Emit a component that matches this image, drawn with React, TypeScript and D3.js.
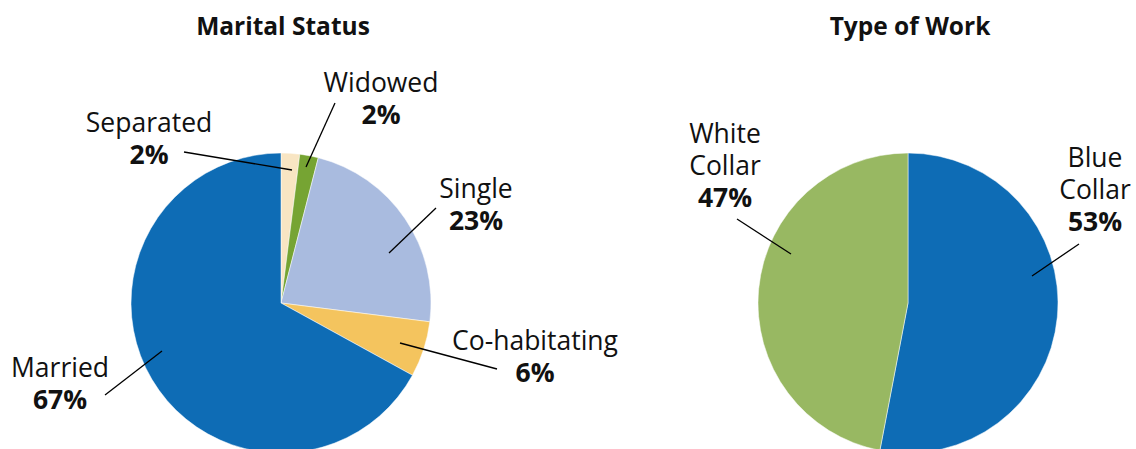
import React from "react";
import * as d3 from "d3";

// ---- Data ----
const maritalCategories = ["Separated", "Widowed", "Single", "Co-habitating", "Married"];
const maritalValues = [2, 2, 23, 6, 67];
const maritalColors = ["#F8E5C3", "#76A433", "#A9BBDF", "#F4C45E", "#0E6CB5"];

const workCategories = ["Blue Collar", "White Collar"];
const workValues = [53, 47];
const workColors = ["#0E6CB5", "#98B862"];

// ---- Layout (label text lines, anchor offsets relative to pie centre, leader line offsets) ----
const maritalLabelLines = [["Separated"], ["Widowed"], ["Single"], ["Co-habitating"], ["Married"]];
const maritalLabelPos = [
  { tx: -132, ty: -171, l: [-97, -151, 11, -133] },
  { tx: 100, ty: -211, l: [54, -200, 25, -136] },
  { tx: 195, ty: -105, l: [155, -95, 108, -50] },
  { tx: 254, ty: 47, l: [119, 40, 216, 66] },
  { tx: -221, ty: 74, l: [-176, 92, -119, 48] },
];
const workLabelLines = [["Blue", "Collar"], ["White", "Collar"]];
const workLabelPos = [
  { tx: 187, ty: -136, l: [171, -59, 124, -27] },
  { tx: -183, ty: -160, l: [-171, -84, -117, -49] },
];

const FONT = "'Open Sans', 'Noto Sans', sans-serif";
const W = 1136;
const H = 449;
const R = 150;

type PieProps = {
  cx: number;
  cy: number;
  title: string;
  values: number[];
  colors: string[];
  lines: string[][];
  pos: { tx: number; ty: number; l: number[] }[];
};

function Pie({ cx, cy, title, values, colors, lines, pos }: PieProps) {
  const pie = d3.pie<number>().sort(null).value((d) => d);
  const arcs = pie(values);
  const arc = d3.arc<d3.PieArcDatum<number>>().innerRadius(0).outerRadius(R);
  const lh = 32;
  return (
    <g>
      <text x={cx + 2} y={35} textAnchor="middle" fontFamily={FONT} fontWeight="bold" fontSize={24.5} fill="#111">
        {title}
      </text>
      <g transform={`translate(${cx},${cy})`}>
        {arcs.map((a, i) => (
          <path key={i} d={arc(a) || ""} fill={colors[i]} stroke="#fff" strokeWidth={0.5} />
        ))}
        {arcs.map((a, i) => {
          const p = pos[i];
          const ls = lines[i];
          return (
            <g key={"l" + i}>
              <line x1={p.l[0]} y1={p.l[1]} x2={p.l[2]} y2={p.l[3]} stroke="#000" strokeWidth={1.3} />
              <text textAnchor="middle" fontFamily={FONT} fontSize={26.5} fill="#111">
                {ls.map((s, j) => (
                  <tspan key={j} x={p.tx} y={p.ty + j * lh}>
                    {s}
                  </tspan>
                ))}
                <tspan x={p.tx} y={p.ty + ls.length * lh} fontWeight="bold">
                  {`${values[i]}%`}
                </tspan>
              </text>
            </g>
          );
        })}
      </g>
    </g>
  );
}

export default function App() {
  return (
    <div style={{ position: "absolute", left: 0, top: 0 }}>
      <svg width={W} height={H} style={{ display: "block", background: "#fff" }}>
        <Pie
          cx={281}
          cy={303}
          title="Marital Status"
          values={maritalValues}
          colors={maritalColors}
          lines={maritalLabelLines}
          pos={maritalLabelPos}
        />
        <Pie
          cx={908}
          cy={303}
          title="Type of Work"
          values={workValues}
          colors={workColors}
          lines={workLabelLines}
          pos={workLabelPos}
        />
      </svg>
    </div>
  );
}
